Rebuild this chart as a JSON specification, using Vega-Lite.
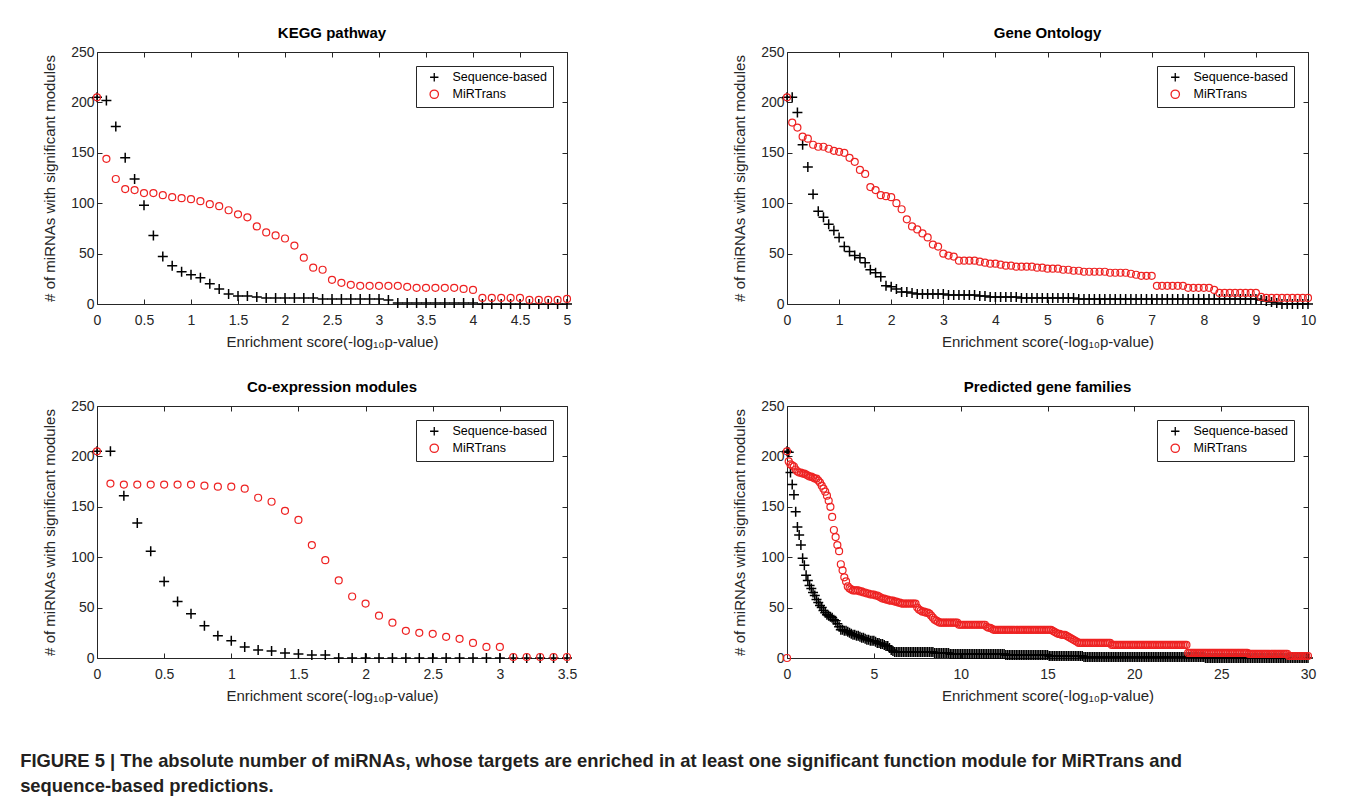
{
"$schema": "https://vega.github.io/schema/vega-lite/v6.json",
"background": "white",
"padding": {"left": 20, "top": 25, "right": 5, "bottom": 5},
"datasets": {
"kegg_seq": [{"x":0,"y":205},{"x":0.1,"y":202},{"x":0.2,"y":176},{"x":0.3,"y":145},{"x":0.4,"y":124},{"x":0.5,"y":98},{"x":0.6,"y":68},{"x":0.7,"y":47},{"x":0.8,"y":38},{"x":0.9,"y":32},{"x":1,"y":29},
{"x":1.1,"y":26},{"x":1.2,"y":20},{"x":1.3,"y":15},{"x":1.4,"y":10},{"x":1.5,"y":8},{"x":1.6,"y":8},{"x":1.7,"y":7},{"x":1.8,"y":6},{"x":1.9,"y":6},{"x":2,"y":6},
{"x":2.1,"y":6},{"x":2.2,"y":6},{"x":2.3,"y":6},{"x":2.4,"y":5},{"x":2.5,"y":5},{"x":2.6,"y":5},{"x":2.7,"y":5},{"x":2.8,"y":5},{"x":2.9,"y":5},{"x":3,"y":5},
{"x":3.1,"y":4},{"x":3.2,"y":1},{"x":3.3,"y":1},{"x":3.4,"y":1},{"x":3.5,"y":1},{"x":3.6,"y":1},{"x":3.7,"y":1},{"x":3.8,"y":1},{"x":3.9,"y":1},{"x":4,"y":1},
{"x":4.1,"y":0},{"x":4.2,"y":0},{"x":4.3,"y":0},{"x":4.4,"y":0},{"x":4.5,"y":0},{"x":4.6,"y":0},{"x":4.7,"y":0},{"x":4.8,"y":0},{"x":4.9,"y":0},{"x":5,"y":0}],
"kegg_mir": [{"x":0,"y":205},{"x":0.1,"y":144},{"x":0.2,"y":124},{"x":0.3,"y":114},{"x":0.4,"y":113},{"x":0.5,"y":110},{"x":0.6,"y":110},{"x":0.7,"y":108},{"x":0.8,"y":106},{"x":0.9,"y":105},{"x":1,"y":104},
{"x":1.1,"y":102},{"x":1.2,"y":99},{"x":1.3,"y":97},{"x":1.4,"y":93},{"x":1.5,"y":89},{"x":1.6,"y":86},{"x":1.7,"y":77},{"x":1.8,"y":71},{"x":1.9,"y":68},{"x":2,"y":65},
{"x":2.1,"y":58},{"x":2.2,"y":46},{"x":2.3,"y":36},{"x":2.4,"y":34},{"x":2.5,"y":24},{"x":2.6,"y":21},{"x":2.7,"y":19},{"x":2.8,"y":18},{"x":2.9,"y":18},{"x":3,"y":18},
{"x":3.1,"y":18},{"x":3.2,"y":18},{"x":3.3,"y":17},{"x":3.4,"y":16},{"x":3.5,"y":16},{"x":3.6,"y":16},{"x":3.7,"y":16},{"x":3.8,"y":16},{"x":3.9,"y":15},{"x":4,"y":14},
{"x":4.1,"y":6},{"x":4.2,"y":6},{"x":4.3,"y":6},{"x":4.4,"y":6},{"x":4.5,"y":6},{"x":4.6,"y":4},{"x":4.7,"y":4},{"x":4.8,"y":4},{"x":4.9,"y":4},{"x":5,"y":5}],
"go_seq": [{"x":0,"y":205},{"x":0.1,"y":205},{"x":0.2,"y":190},{"x":0.3,"y":158},{"x":0.4,"y":136},{"x":0.5,"y":109},{"x":0.6,"y":92},{"x":0.7,"y":86},{"x":0.8,"y":79},{"x":0.9,"y":73},{"x":1,"y":66},
{"x":1.1,"y":57},{"x":1.2,"y":52},{"x":1.3,"y":48},{"x":1.4,"y":46},{"x":1.5,"y":41},{"x":1.6,"y":34},{"x":1.7,"y":31},{"x":1.8,"y":27},{"x":1.9,"y":18},{"x":2,"y":17},
{"x":2.1,"y":15},{"x":2.2,"y":12},{"x":2.3,"y":12},{"x":2.4,"y":11},{"x":2.5,"y":10},{"x":2.6,"y":10},{"x":2.7,"y":10},{"x":2.8,"y":10},{"x":2.9,"y":10},{"x":3,"y":10},
{"x":3.1,"y":9},{"x":3.2,"y":9},{"x":3.3,"y":9},{"x":3.4,"y":9},{"x":3.5,"y":9},{"x":3.6,"y":9},{"x":3.7,"y":8},{"x":3.8,"y":8},{"x":3.9,"y":7},{"x":4,"y":7},
{"x":4.1,"y":7},{"x":4.2,"y":7},{"x":4.3,"y":7},{"x":4.4,"y":7},{"x":4.5,"y":6},{"x":4.6,"y":6},{"x":4.7,"y":6},{"x":4.8,"y":6},{"x":4.9,"y":6},{"x":5,"y":6},
{"x":5.1,"y":6},{"x":5.2,"y":6},{"x":5.3,"y":6},{"x":5.4,"y":6},{"x":5.5,"y":6},{"x":5.6,"y":5},{"x":5.7,"y":5},{"x":5.8,"y":5},{"x":5.9,"y":5},{"x":6,"y":5},
{"x":6.1,"y":5},{"x":6.2,"y":5},{"x":6.3,"y":5},{"x":6.4,"y":5},{"x":6.5,"y":5},{"x":6.6,"y":5},{"x":6.7,"y":5},{"x":6.8,"y":5},{"x":6.9,"y":5},{"x":7,"y":5},
{"x":7.1,"y":5},{"x":7.2,"y":5},{"x":7.3,"y":5},{"x":7.4,"y":5},{"x":7.5,"y":5},{"x":7.6,"y":5},{"x":7.7,"y":5},{"x":7.8,"y":5},{"x":7.9,"y":5},{"x":8,"y":5},
{"x":8.1,"y":5},{"x":8.2,"y":5},{"x":8.3,"y":5},{"x":8.4,"y":5},{"x":8.5,"y":5},{"x":8.6,"y":5},{"x":8.7,"y":5},{"x":8.8,"y":5},{"x":8.9,"y":5},{"x":9,"y":5},
{"x":9.1,"y":4},{"x":9.2,"y":3},{"x":9.3,"y":2},{"x":9.4,"y":1},{"x":9.5,"y":0},{"x":9.6,"y":0},{"x":9.7,"y":0},{"x":9.8,"y":0},{"x":9.9,"y":0},{"x":10,"y":0}],
"go_mir": [{"x":0,"y":205},{"x":0.1,"y":180},{"x":0.2,"y":175},{"x":0.3,"y":166},{"x":0.4,"y":164},{"x":0.5,"y":158},{"x":0.6,"y":156},{"x":0.7,"y":156},{"x":0.8,"y":154},{"x":0.9,"y":152},{"x":1,"y":151},
{"x":1.1,"y":150},{"x":1.2,"y":145},{"x":1.3,"y":141},{"x":1.4,"y":133},{"x":1.5,"y":129},{"x":1.6,"y":116},{"x":1.7,"y":113},{"x":1.8,"y":108},{"x":1.9,"y":107},{"x":2,"y":106},
{"x":2.1,"y":100},{"x":2.2,"y":94},{"x":2.3,"y":84},{"x":2.4,"y":77},{"x":2.5,"y":74},{"x":2.6,"y":70},{"x":2.7,"y":66},{"x":2.8,"y":59},{"x":2.9,"y":57},{"x":3,"y":50},
{"x":3.1,"y":48},{"x":3.2,"y":47},{"x":3.3,"y":43},{"x":3.4,"y":43},{"x":3.5,"y":43},{"x":3.6,"y":43},{"x":3.7,"y":42},{"x":3.8,"y":41},{"x":3.9,"y":40},{"x":4,"y":40},
{"x":4.1,"y":39},{"x":4.2,"y":38},{"x":4.3,"y":38},{"x":4.4,"y":37},{"x":4.5,"y":37},{"x":4.6,"y":37},{"x":4.7,"y":37},{"x":4.8,"y":36},{"x":4.9,"y":36},{"x":5,"y":35},
{"x":5.1,"y":35},{"x":5.2,"y":35},{"x":5.3,"y":34},{"x":5.4,"y":34},{"x":5.5,"y":33},{"x":5.6,"y":33},{"x":5.7,"y":32},{"x":5.8,"y":32},{"x":5.9,"y":32},{"x":6,"y":32},
{"x":6.1,"y":32},{"x":6.2,"y":31},{"x":6.3,"y":31},{"x":6.4,"y":31},{"x":6.5,"y":31},{"x":6.6,"y":30},{"x":6.7,"y":29},{"x":6.8,"y":28},{"x":6.9,"y":28},{"x":7,"y":28},
{"x":7.1,"y":18},{"x":7.2,"y":18},{"x":7.3,"y":18},{"x":7.4,"y":18},{"x":7.5,"y":18},{"x":7.6,"y":18},{"x":7.7,"y":16},{"x":7.8,"y":16},{"x":7.9,"y":16},{"x":8,"y":16},
{"x":8.1,"y":16},{"x":8.2,"y":14},{"x":8.3,"y":11},{"x":8.4,"y":11},{"x":8.5,"y":11},{"x":8.6,"y":11},{"x":8.7,"y":11},{"x":8.8,"y":11},{"x":8.9,"y":11},{"x":9,"y":11},
{"x":9.1,"y":7},{"x":9.2,"y":6},{"x":9.3,"y":6},{"x":9.4,"y":6},{"x":9.5,"y":6},{"x":9.6,"y":6},{"x":9.7,"y":6},{"x":9.8,"y":6},{"x":9.9,"y":6},{"x":10,"y":6}],
"co_seq": [{"x":0,"y":205},{"x":0.1,"y":205},{"x":0.2,"y":161},{"x":0.3,"y":134},{"x":0.4,"y":106},{"x":0.5,"y":76},{"x":0.6,"y":56},{"x":0.7,"y":44},{"x":0.8,"y":32},{"x":0.9,"y":22},{"x":1,"y":17},
{"x":1.1,"y":11},{"x":1.2,"y":8},{"x":1.3,"y":7},{"x":1.4,"y":5},{"x":1.5,"y":4},{"x":1.6,"y":3},{"x":1.7,"y":3},{"x":1.8,"y":0},{"x":1.9,"y":0},{"x":2,"y":0},
{"x":2.1,"y":0},{"x":2.2,"y":0},{"x":2.3,"y":0},{"x":2.4,"y":0},{"x":2.5,"y":0},{"x":2.6,"y":0},{"x":2.7,"y":0},{"x":2.8,"y":0},{"x":2.9,"y":0},{"x":3,"y":0},
{"x":3.1,"y":0},{"x":3.2,"y":0},{"x":3.3,"y":0},{"x":3.4,"y":0},{"x":3.5,"y":0}],
"co_mir": [{"x":0,"y":205},{"x":0.1,"y":173},{"x":0.2,"y":172},{"x":0.3,"y":172},{"x":0.4,"y":172},{"x":0.5,"y":172},{"x":0.6,"y":172},{"x":0.7,"y":172},{"x":0.8,"y":171},{"x":0.9,"y":170},{"x":1,"y":170},
{"x":1.1,"y":168},{"x":1.2,"y":159},{"x":1.3,"y":155},{"x":1.4,"y":146},{"x":1.5,"y":137},{"x":1.6,"y":112},{"x":1.7,"y":97},{"x":1.8,"y":77},{"x":1.9,"y":61},{"x":2,"y":54},
{"x":2.1,"y":42},{"x":2.2,"y":35},{"x":2.3,"y":27},{"x":2.4,"y":25},{"x":2.5,"y":24},{"x":2.6,"y":21},{"x":2.7,"y":19},{"x":2.8,"y":15},{"x":2.9,"y":11},{"x":3,"y":11},
{"x":3.1,"y":1},{"x":3.2,"y":1},{"x":3.3,"y":1},{"x":3.4,"y":1},{"x":3.5,"y":1}],
"pf_seq": [{"x":0,"y":205},{"x":0.1,"y":204},{"x":0.2,"y":184},{"x":0.3,"y":172},{"x":0.4,"y":162},{"x":0.5,"y":145},{"x":0.6,"y":130},{"x":0.7,"y":122},{"x":0.8,"y":112},{"x":0.9,"y":99},{"x":1,"y":92},
{"x":1.1,"y":82},{"x":1.2,"y":77},{"x":1.3,"y":72},{"x":1.4,"y":69},{"x":1.5,"y":65},{"x":1.6,"y":62},{"x":1.7,"y":58},{"x":1.8,"y":55},{"x":1.9,"y":52},{"x":2,"y":50},
{"x":2.1,"y":47},{"x":2.2,"y":45},{"x":2.3,"y":43},{"x":2.4,"y":42},{"x":2.5,"y":41},{"x":2.6,"y":40},{"x":2.7,"y":38},{"x":2.8,"y":37},{"x":2.9,"y":34},{"x":3,"y":31},
{"x":3.1,"y":28},{"x":3.2,"y":28},{"x":3.3,"y":27},{"x":3.4,"y":27},{"x":3.5,"y":26},{"x":3.6,"y":25},{"x":3.7,"y":24},{"x":3.8,"y":23},{"x":3.9,"y":23},{"x":4,"y":22},
{"x":4.1,"y":22},{"x":4.2,"y":21},{"x":4.3,"y":20},{"x":4.4,"y":20},{"x":4.5,"y":19},{"x":4.6,"y":18},{"x":4.7,"y":18},{"x":4.8,"y":17},{"x":4.9,"y":17},{"x":5,"y":17},
{"x":5.1,"y":16},{"x":5.2,"y":15},{"x":5.3,"y":15},{"x":5.4,"y":14},{"x":5.5,"y":14},{"x":5.6,"y":13},{"x":5.7,"y":12},{"x":5.8,"y":12},{"x":5.9,"y":10},{"x":6,"y":8},
{"x":6.1,"y":7},{"x":6.2,"y":6},{"x":6.3,"y":6},{"x":6.4,"y":6},{"x":6.5,"y":6},{"x":6.6,"y":6},{"x":6.7,"y":6},{"x":6.8,"y":6},{"x":6.9,"y":6},{"x":7,"y":6},
{"x":7.1,"y":6},{"x":7.2,"y":6},{"x":7.3,"y":6},{"x":7.4,"y":6},{"x":7.5,"y":6},{"x":7.6,"y":6},{"x":7.7,"y":6},{"x":7.8,"y":6},{"x":7.9,"y":6},{"x":8,"y":6},
{"x":8.1,"y":6},{"x":8.2,"y":6},{"x":8.3,"y":6},{"x":8.4,"y":6},{"x":8.5,"y":5},{"x":8.6,"y":5},{"x":8.7,"y":5},{"x":8.8,"y":5},{"x":8.9,"y":5},{"x":9,"y":5},
{"x":9.1,"y":5},{"x":9.2,"y":5},{"x":9.3,"y":5},{"x":9.4,"y":4},{"x":9.5,"y":4},{"x":9.6,"y":4},{"x":9.7,"y":4},{"x":9.8,"y":4},{"x":9.9,"y":4},{"x":10,"y":4},
{"x":10.1,"y":4},{"x":10.2,"y":4},{"x":10.3,"y":4},{"x":10.4,"y":4},{"x":10.5,"y":4},{"x":10.6,"y":4},{"x":10.7,"y":4},{"x":10.8,"y":4},{"x":10.9,"y":4},{"x":11,"y":4},
{"x":11.1,"y":4},{"x":11.2,"y":4},{"x":11.3,"y":4},{"x":11.4,"y":4},{"x":11.5,"y":4},{"x":11.6,"y":4},{"x":11.7,"y":4},{"x":11.8,"y":4},{"x":11.9,"y":4},{"x":12,"y":4},
{"x":12.1,"y":4},{"x":12.2,"y":4},{"x":12.3,"y":4},{"x":12.4,"y":4},{"x":12.5,"y":4},{"x":12.6,"y":3},{"x":12.7,"y":3},{"x":12.8,"y":3},{"x":12.9,"y":3},{"x":13,"y":3},
{"x":13.1,"y":3},{"x":13.2,"y":3},{"x":13.3,"y":3},{"x":13.4,"y":3},{"x":13.5,"y":3},{"x":13.6,"y":3},{"x":13.7,"y":3},{"x":13.8,"y":3},{"x":13.9,"y":3},{"x":14,"y":3},
{"x":14.1,"y":3},{"x":14.2,"y":3},{"x":14.3,"y":3},{"x":14.4,"y":3},{"x":14.5,"y":3},{"x":14.6,"y":3},{"x":14.7,"y":3},{"x":14.8,"y":3},{"x":14.9,"y":3},{"x":15,"y":3},
{"x":15.1,"y":2},{"x":15.2,"y":2},{"x":15.3,"y":2},{"x":15.4,"y":2},{"x":15.5,"y":2},{"x":15.6,"y":2},{"x":15.7,"y":2},{"x":15.8,"y":2},{"x":15.9,"y":2},{"x":16,"y":2},
{"x":16.1,"y":2},{"x":16.2,"y":2},{"x":16.3,"y":2},{"x":16.4,"y":2},{"x":16.5,"y":2},{"x":16.6,"y":2},{"x":16.7,"y":2},{"x":16.8,"y":2},{"x":16.9,"y":2},{"x":17,"y":2},
{"x":17.1,"y":1},{"x":17.2,"y":1},{"x":17.3,"y":1},{"x":17.4,"y":1},{"x":17.5,"y":1},{"x":17.6,"y":1},{"x":17.7,"y":1},{"x":17.8,"y":1},{"x":17.9,"y":1},{"x":18,"y":1},
{"x":18.1,"y":1},{"x":18.2,"y":1},{"x":18.3,"y":1},{"x":18.4,"y":1},{"x":18.5,"y":1},{"x":18.6,"y":1},{"x":18.7,"y":1},{"x":18.8,"y":1},{"x":18.9,"y":1},{"x":19,"y":1},
{"x":19.1,"y":1},{"x":19.2,"y":1},{"x":19.3,"y":1},{"x":19.4,"y":1},{"x":19.5,"y":1},{"x":19.6,"y":1},{"x":19.7,"y":1},{"x":19.8,"y":1},{"x":19.9,"y":1},{"x":20,"y":1},
{"x":20.1,"y":1},{"x":20.2,"y":1},{"x":20.3,"y":1},{"x":20.4,"y":1},{"x":20.5,"y":1},{"x":20.6,"y":1},{"x":20.7,"y":1},{"x":20.8,"y":1},{"x":20.9,"y":1},{"x":21,"y":1},
{"x":21.1,"y":1},{"x":21.2,"y":1},{"x":21.3,"y":1},{"x":21.4,"y":1},{"x":21.5,"y":1},{"x":21.6,"y":1},{"x":21.7,"y":1},{"x":21.8,"y":1},{"x":21.9,"y":1},{"x":22,"y":1},
{"x":22.1,"y":1},{"x":22.2,"y":1},{"x":22.3,"y":1},{"x":22.4,"y":1},{"x":22.5,"y":1},{"x":22.6,"y":1},{"x":22.7,"y":1},{"x":22.8,"y":1},{"x":22.9,"y":1},{"x":23,"y":1},
{"x":23.1,"y":1},{"x":23.2,"y":1},{"x":23.3,"y":1},{"x":23.4,"y":1},{"x":23.5,"y":1},{"x":23.6,"y":1},{"x":23.7,"y":1},{"x":23.8,"y":1},{"x":23.9,"y":1},{"x":24,"y":1},
{"x":24.1,"y":0},{"x":24.2,"y":0},{"x":24.3,"y":0},{"x":24.4,"y":0},{"x":24.5,"y":0},{"x":24.6,"y":0},{"x":24.7,"y":0},{"x":24.8,"y":0},{"x":24.9,"y":0},{"x":25,"y":0},
{"x":25.1,"y":0},{"x":25.2,"y":0},{"x":25.3,"y":0},{"x":25.4,"y":0},{"x":25.5,"y":0},{"x":25.6,"y":0},{"x":25.7,"y":0},{"x":25.8,"y":0},{"x":25.9,"y":0},{"x":26,"y":0},
{"x":26.1,"y":0},{"x":26.2,"y":0},{"x":26.3,"y":0},{"x":26.4,"y":0},{"x":26.5,"y":0},{"x":26.6,"y":0},{"x":26.7,"y":0},{"x":26.8,"y":0},{"x":26.9,"y":0},{"x":27,"y":0},
{"x":27.1,"y":0},{"x":27.2,"y":0},{"x":27.3,"y":0},{"x":27.4,"y":0},{"x":27.5,"y":0},{"x":27.6,"y":0},{"x":27.7,"y":0},{"x":27.8,"y":0},{"x":27.9,"y":0},{"x":28,"y":0},
{"x":28.1,"y":0},{"x":28.2,"y":0},{"x":28.3,"y":0},{"x":28.4,"y":0},{"x":28.5,"y":0},{"x":28.6,"y":0},{"x":28.7,"y":0},{"x":28.8,"y":0},{"x":28.9,"y":0},{"x":29,"y":0},
{"x":29.1,"y":0},{"x":29.2,"y":0},{"x":29.3,"y":0},{"x":29.4,"y":0},{"x":29.5,"y":0},{"x":29.6,"y":0},{"x":29.7,"y":0},{"x":29.8,"y":0},{"x":29.9,"y":0},{"x":30,"y":0}],
"pf_mir": [{"x":0,"y":0},{"x":0,"y":205},{"x":0.1,"y":195},{"x":0.2,"y":192},{"x":0.3,"y":191},{"x":0.4,"y":190},{"x":0.5,"y":187},{"x":0.6,"y":185},{"x":0.7,"y":184},{"x":0.8,"y":184},{"x":0.9,"y":183},{"x":1,"y":183},
{"x":1.1,"y":182},{"x":1.2,"y":181},{"x":1.3,"y":180},{"x":1.4,"y":180},{"x":1.5,"y":179},{"x":1.6,"y":178},{"x":1.7,"y":178},{"x":1.8,"y":176},{"x":1.9,"y":174},{"x":2,"y":171},
{"x":2.1,"y":168},{"x":2.2,"y":165},{"x":2.3,"y":161},{"x":2.4,"y":156},{"x":2.5,"y":150},{"x":2.6,"y":140},{"x":2.7,"y":127},{"x":2.8,"y":120},{"x":2.9,"y":112},{"x":3,"y":106},
{"x":3.1,"y":93},{"x":3.2,"y":87},{"x":3.3,"y":80},{"x":3.4,"y":76},{"x":3.5,"y":71},{"x":3.6,"y":69},{"x":3.7,"y":68},{"x":3.8,"y":67},{"x":3.9,"y":67},{"x":4,"y":67},
{"x":4.1,"y":67},{"x":4.2,"y":66},{"x":4.3,"y":66},{"x":4.4,"y":65},{"x":4.5,"y":65},{"x":4.6,"y":64},{"x":4.7,"y":64},{"x":4.8,"y":63},{"x":4.9,"y":63},{"x":5,"y":63},
{"x":5.1,"y":62},{"x":5.2,"y":62},{"x":5.3,"y":61},{"x":5.4,"y":60},{"x":5.5,"y":59},{"x":5.6,"y":59},{"x":5.7,"y":58},{"x":5.8,"y":58},{"x":5.9,"y":57},{"x":6,"y":57},
{"x":6.1,"y":57},{"x":6.2,"y":56},{"x":6.3,"y":56},{"x":6.4,"y":55},{"x":6.5,"y":55},{"x":6.6,"y":54},{"x":6.7,"y":54},{"x":6.8,"y":54},{"x":6.9,"y":54},{"x":7,"y":54},
{"x":7.1,"y":54},{"x":7.2,"y":54},{"x":7.3,"y":54},{"x":7.4,"y":54},{"x":7.5,"y":50},{"x":7.6,"y":48},{"x":7.7,"y":47},{"x":7.8,"y":46},{"x":7.9,"y":46},{"x":8,"y":45},
{"x":8.1,"y":45},{"x":8.2,"y":44},{"x":8.3,"y":42},{"x":8.4,"y":40},{"x":8.5,"y":38},{"x":8.6,"y":37},{"x":8.7,"y":36},{"x":8.8,"y":35},{"x":8.9,"y":35},{"x":9,"y":35},
{"x":9.1,"y":35},{"x":9.2,"y":35},{"x":9.3,"y":35},{"x":9.4,"y":35},{"x":9.5,"y":35},{"x":9.6,"y":35},{"x":9.7,"y":35},{"x":9.8,"y":35},{"x":9.9,"y":33},{"x":10,"y":33},
{"x":10.1,"y":33},{"x":10.2,"y":33},{"x":10.3,"y":33},{"x":10.4,"y":33},{"x":10.5,"y":33},{"x":10.6,"y":33},{"x":10.7,"y":33},{"x":10.8,"y":33},{"x":10.9,"y":33},{"x":11,"y":33},
{"x":11.1,"y":33},{"x":11.2,"y":33},{"x":11.3,"y":33},{"x":11.4,"y":33},{"x":11.5,"y":31},{"x":11.6,"y":30},{"x":11.7,"y":30},{"x":11.8,"y":29},{"x":11.9,"y":28},{"x":12,"y":28},
{"x":12.1,"y":28},{"x":12.2,"y":28},{"x":12.3,"y":28},{"x":12.4,"y":28},{"x":12.5,"y":28},{"x":12.6,"y":28},{"x":12.7,"y":28},{"x":12.8,"y":28},{"x":12.9,"y":28},{"x":13,"y":28},
{"x":13.1,"y":28},{"x":13.2,"y":28},{"x":13.3,"y":28},{"x":13.4,"y":28},{"x":13.5,"y":28},{"x":13.6,"y":28},{"x":13.7,"y":28},{"x":13.8,"y":28},{"x":13.9,"y":28},{"x":14,"y":28},
{"x":14.1,"y":28},{"x":14.2,"y":28},{"x":14.3,"y":28},{"x":14.4,"y":28},{"x":14.5,"y":28},{"x":14.6,"y":28},{"x":14.7,"y":28},{"x":14.8,"y":28},{"x":14.9,"y":28},{"x":15,"y":28},
{"x":15.1,"y":28},{"x":15.2,"y":28},{"x":15.3,"y":27},{"x":15.4,"y":26},{"x":15.5,"y":25},{"x":15.6,"y":24},{"x":15.7,"y":24},{"x":15.8,"y":23},{"x":15.9,"y":23},{"x":16,"y":23},
{"x":16.1,"y":22},{"x":16.2,"y":21},{"x":16.3,"y":20},{"x":16.4,"y":19},{"x":16.5,"y":18},{"x":16.6,"y":17},{"x":16.7,"y":16},{"x":16.8,"y":15},{"x":16.9,"y":15},{"x":17,"y":15},
{"x":17.1,"y":15},{"x":17.2,"y":15},{"x":17.3,"y":15},{"x":17.4,"y":15},{"x":17.5,"y":15},{"x":17.6,"y":15},{"x":17.7,"y":15},{"x":17.8,"y":15},{"x":17.9,"y":15},{"x":18,"y":15},
{"x":18.1,"y":15},{"x":18.2,"y":15},{"x":18.3,"y":15},{"x":18.4,"y":15},{"x":18.5,"y":15},{"x":18.6,"y":15},{"x":18.7,"y":13},{"x":18.8,"y":13},{"x":18.9,"y":13},{"x":19,"y":13},
{"x":19.1,"y":13},{"x":19.2,"y":13},{"x":19.3,"y":13},{"x":19.4,"y":13},{"x":19.5,"y":13},{"x":19.6,"y":13},{"x":19.7,"y":13},{"x":19.8,"y":13},{"x":19.9,"y":13},{"x":20,"y":13},
{"x":20.1,"y":13},{"x":20.2,"y":13},{"x":20.3,"y":13},{"x":20.4,"y":13},{"x":20.5,"y":13},{"x":20.6,"y":13},{"x":20.7,"y":13},{"x":20.8,"y":13},{"x":20.9,"y":13},{"x":21,"y":13},
{"x":21.1,"y":13},{"x":21.2,"y":13},{"x":21.3,"y":13},{"x":21.4,"y":13},{"x":21.5,"y":13},{"x":21.6,"y":13},{"x":21.7,"y":13},{"x":21.8,"y":13},{"x":21.9,"y":13},{"x":22,"y":13},
{"x":22.1,"y":13},{"x":22.2,"y":13},{"x":22.3,"y":13},{"x":22.4,"y":13},{"x":22.5,"y":13},{"x":22.6,"y":13},{"x":22.7,"y":13},{"x":22.8,"y":13},{"x":22.9,"y":13},{"x":23,"y":13},
{"x":23.1,"y":5},{"x":23.2,"y":5},{"x":23.3,"y":5},{"x":23.4,"y":5},{"x":23.5,"y":5},{"x":23.6,"y":5},{"x":23.7,"y":5},{"x":23.8,"y":5},{"x":23.9,"y":5},{"x":24,"y":5},
{"x":24.1,"y":5},{"x":24.2,"y":5},{"x":24.3,"y":5},{"x":24.4,"y":5},{"x":24.5,"y":5},{"x":24.6,"y":5},{"x":24.7,"y":5},{"x":24.8,"y":5},{"x":24.9,"y":5},{"x":25,"y":5},
{"x":25.1,"y":5},{"x":25.2,"y":5},{"x":25.3,"y":5},{"x":25.4,"y":5},{"x":25.5,"y":5},{"x":25.6,"y":5},{"x":25.7,"y":5},{"x":25.8,"y":5},{"x":25.9,"y":5},{"x":26,"y":5},
{"x":26.1,"y":5},{"x":26.2,"y":5},{"x":26.3,"y":5},{"x":26.4,"y":5},{"x":26.5,"y":5},{"x":26.6,"y":4},{"x":26.7,"y":4},{"x":26.8,"y":4},{"x":26.9,"y":4},{"x":27,"y":4},
{"x":27.1,"y":4},{"x":27.2,"y":4},{"x":27.3,"y":4},{"x":27.4,"y":4},{"x":27.5,"y":4},{"x":27.6,"y":4},{"x":27.7,"y":4},{"x":27.8,"y":4},{"x":27.9,"y":4},{"x":28,"y":4},
{"x":28.1,"y":4},{"x":28.2,"y":4},{"x":28.3,"y":4},{"x":28.4,"y":4},{"x":28.5,"y":4},{"x":28.6,"y":4},{"x":28.7,"y":4},{"x":28.8,"y":4},{"x":28.9,"y":2},{"x":29,"y":2},
{"x":29.1,"y":2},{"x":29.2,"y":2},{"x":29.3,"y":2},{"x":29.4,"y":2},{"x":29.5,"y":2},{"x":29.6,"y":2},{"x":29.7,"y":2},{"x":29.8,"y":2},{"x":29.9,"y":2},{"x":30,"y":2}]
},
"title": {
  "text": ["FIGURE 5 | The absolute number of miRNAs, whose targets are enriched in at least one significant function module for MiRTrans and", "sequence-based predictions."],
  "orient": "bottom", "anchor": "start", "frame": "bounds",
  "font": "Liberation Sans", "fontSize": 18.4, "fontWeight": "bold", "color": "#231f20",
  "lineHeight": 25, "offset": 48, "dx": -22
},
"columns": 2,
"spacing": {"row": 102, "column": 220},
"bounds": "flush",
"resolve": {"scale": {"color": "independent", "shape": "independent"}, "legend": {"color": "independent", "shape": "independent"}},
"concat": [
{
  "title": "KEGG pathway",
  "width": 470, "height": 252,
  "layer": [
    {"data": {"name": "kegg_seq"},
     "mark": {"type": "point", "filled": false, "size": 100, "strokeWidth": 1.5, "opacity": 1},
     "encoding": {
       "x": {"field": "x", "type": "quantitative", "scale": {"domain": [0, 5], "nice": false}, "axis": {"values": [0,0.5,1,1.5,2,2.5,3,3.5,4,4.5,5], "title": "Enrichment score(-log₁₀p-value)"}},
       "y": {"field": "y", "type": "quantitative", "scale": {"domain": [0, 250], "nice": false}, "axis": {"values": [0,50,100,150,200,250], "title": "# of miRNAs with significant modules"}},
       "color": {"datum": "Sequence-based", "scale": {"domain": ["Sequence-based", "MiRTrans"], "range": ["#000000", "#ee2222"]}, "legend": {"title": null}},
       "shape": {"datum": "Sequence-based", "scale": {"domain": ["Sequence-based", "MiRTrans"], "range": ["M-1,0H1M0,-1V1", "circle"]}, "legend": {"title": null}}
     }},
    {"data": {"name": "kegg_mir"},
     "mark": {"type": "point", "filled": false, "size": 49, "strokeWidth": 1.2, "opacity": 1},
     "encoding": {
       "x": {"field": "x", "type": "quantitative", "axis": {"orient": "top", "labels": false, "title": null, "values": [0,0.5,1,1.5,2,2.5,3,3.5,4,4.5,5]}},
       "y": {"field": "y", "type": "quantitative", "axis": {"orient": "right", "labels": false, "title": null, "values": [0,50,100,150,200,250]}},
       "color": {"datum": "MiRTrans", "legend": {"title": null}},
       "shape": {"datum": "MiRTrans", "legend": {"title": null}}
     }}
  ],
  "resolve": {"axis": {"x": "independent", "y": "independent"}}
},
{
  "title": "Gene Ontology",
  "width": 521, "height": 252,
  "layer": [
    {"data": {"name": "go_seq"},
     "mark": {"type": "point", "filled": false, "size": 100, "strokeWidth": 1.5, "opacity": 1},
     "encoding": {
       "x": {"field": "x", "type": "quantitative", "scale": {"domain": [0, 10], "nice": false}, "axis": {"values": [0,1,2,3,4,5,6,7,8,9,10], "title": "Enrichment score(-log₁₀p-value)"}},
       "y": {"field": "y", "type": "quantitative", "scale": {"domain": [0, 250], "nice": false}, "axis": {"values": [0,50,100,150,200,250], "title": "# of miRNAs with significant modules"}},
       "color": {"datum": "Sequence-based", "scale": {"domain": ["Sequence-based", "MiRTrans"], "range": ["#000000", "#ee2222"]}, "legend": {"title": null}},
       "shape": {"datum": "Sequence-based", "scale": {"domain": ["Sequence-based", "MiRTrans"], "range": ["M-1,0H1M0,-1V1", "circle"]}, "legend": {"title": null}}
     }},
    {"data": {"name": "go_mir"},
     "mark": {"type": "point", "filled": false, "size": 49, "strokeWidth": 1.2, "opacity": 1},
     "encoding": {
       "x": {"field": "x", "type": "quantitative", "axis": {"orient": "top", "labels": false, "title": null, "values": [0,1,2,3,4,5,6,7,8,9,10]}},
       "y": {"field": "y", "type": "quantitative", "axis": {"orient": "right", "labels": false, "title": null, "values": [0,50,100,150,200,250]}},
       "color": {"datum": "MiRTrans", "legend": {"title": null}},
       "shape": {"datum": "MiRTrans", "legend": {"title": null}}
     }}
  ],
  "resolve": {"axis": {"x": "independent", "y": "independent"}}
},
{
  "title": "Co-expression modules",
  "width": 470, "height": 252,
  "layer": [
    {"data": {"name": "co_seq"},
     "mark": {"type": "point", "filled": false, "size": 100, "strokeWidth": 1.5, "opacity": 1},
     "encoding": {
       "x": {"field": "x", "type": "quantitative", "scale": {"domain": [0, 3.5], "nice": false}, "axis": {"values": [0,0.5,1,1.5,2,2.5,3,3.5], "title": "Enrichment score(-log₁₀p-value)"}},
       "y": {"field": "y", "type": "quantitative", "scale": {"domain": [0, 250], "nice": false}, "axis": {"values": [0,50,100,150,200,250], "title": "# of miRNAs with significant modules"}},
       "color": {"datum": "Sequence-based", "scale": {"domain": ["Sequence-based", "MiRTrans"], "range": ["#000000", "#ee2222"]}, "legend": {"title": null}},
       "shape": {"datum": "Sequence-based", "scale": {"domain": ["Sequence-based", "MiRTrans"], "range": ["M-1,0H1M0,-1V1", "circle"]}, "legend": {"title": null}}
     }},
    {"data": {"name": "co_mir"},
     "mark": {"type": "point", "filled": false, "size": 49, "strokeWidth": 1.2, "opacity": 1},
     "encoding": {
       "x": {"field": "x", "type": "quantitative", "axis": {"orient": "top", "labels": false, "title": null, "values": [0,0.5,1,1.5,2,2.5,3,3.5]}},
       "y": {"field": "y", "type": "quantitative", "axis": {"orient": "right", "labels": false, "title": null, "values": [0,50,100,150,200,250]}},
       "color": {"datum": "MiRTrans", "legend": {"title": null}},
       "shape": {"datum": "MiRTrans", "legend": {"title": null}}
     }}
  ],
  "resolve": {"axis": {"x": "independent", "y": "independent"}}
},
{
  "title": "Predicted gene families",
  "width": 521, "height": 252,
  "layer": [
    {"data": {"name": "pf_seq"},
     "mark": {"type": "point", "filled": false, "size": 100, "strokeWidth": 1.5, "opacity": 1},
     "encoding": {
       "x": {"field": "x", "type": "quantitative", "scale": {"domain": [0, 30], "nice": false}, "axis": {"values": [0,5,10,15,20,25,30], "title": "Enrichment score(-log₁₀p-value)"}},
       "y": {"field": "y", "type": "quantitative", "scale": {"domain": [0, 250], "nice": false}, "axis": {"values": [0,50,100,150,200,250], "title": "# of miRNAs with significant modules"}},
       "color": {"datum": "Sequence-based", "scale": {"domain": ["Sequence-based", "MiRTrans"], "range": ["#000000", "#ee2222"]}, "legend": {"title": null}},
       "shape": {"datum": "Sequence-based", "scale": {"domain": ["Sequence-based", "MiRTrans"], "range": ["M-1,0H1M0,-1V1", "circle"]}, "legend": {"title": null}}
     }},
    {"data": {"name": "pf_mir"},
     "mark": {"type": "point", "filled": false, "size": 49, "strokeWidth": 1.2, "opacity": 1},
     "encoding": {
       "x": {"field": "x", "type": "quantitative", "axis": {"orient": "top", "labels": false, "title": null, "values": [0,5,10,15,20,25,30]}},
       "y": {"field": "y", "type": "quantitative", "axis": {"orient": "right", "labels": false, "title": null, "values": [0,50,100,150,200,250]}},
       "color": {"datum": "MiRTrans", "legend": {"title": null}},
       "shape": {"datum": "MiRTrans", "legend": {"title": null}}
     }}
  ],
  "resolve": {"axis": {"x": "independent", "y": "independent"}}
}
],
"config": {
  "font": "Liberation Sans",
  "view": {"stroke": "#262626", "strokeWidth": 1},
  "axis": {"domain": false, "grid": false, "tickSize": -5, "tickColor": "#262626", "tickWidth": 1, "labelFont": "Liberation Sans", "labelFontSize": 14, "labelColor": "#262626", "labelFlush": false, "titleFont": "Liberation Sans", "titleFontSize": 15, "titleColor": "#262626", "titleFontWeight": "normal", "labelPadding": 8, "format": ".2~f"},
  "axisX": {"titlePadding": 7, "labelPadding": 14},
  "axisY": {"titlePadding": 13},
  "title": {"font": "Liberation Sans", "fontSize": 15, "fontWeight": "bold", "color": "#000000", "offset": 0},
  "legend": {"orient": "top-right", "offset": 14, "strokeColor": "#262626", "fillColor": "white", "padding": 5, "labelFont": "Liberation Sans", "labelFontSize": 12.5, "labelColor": "#000000", "symbolOffset": 7, "labelOffset": 12, "rowPadding": 2, "symbolSize": 70, "symbolStrokeWidth": 1.3}
}
}
